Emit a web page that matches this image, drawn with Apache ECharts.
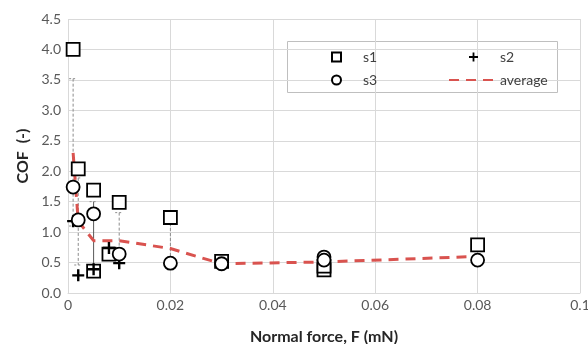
<!DOCTYPE html>
<html>
<head>
<meta charset="utf-8">
<script src="https://cdn.jsdelivr.net/npm/echarts@6/dist/echarts.min.js"></script>
<style>
  html, body { margin: 0; padding: 0; background: #fff; }
  #chart { width: 588px; height: 344px; }
</style>
</head>
<body>
<div id="chart"></div>
<script>
// 数据
const s1Points = [[0.001, 4.0], [0.002, 2.04], [0.005, 1.69], [0.005, 0.36], [0.008, 0.64],
  [0.01, 1.49], [0.02, 1.24], [0.03, 0.52], [0.05, 0.38], [0.05, 0.44], [0.08, 0.79]];
const s2Points = [[0.001, 1.18], [0.002, 0.29], [0.005, 0.39], [0.008, 0.74], [0.01, 0.49]];
const s3Points = [[0.001, 1.74], [0.002, 1.2], [0.005, 1.3], [0.01, 0.64], [0.02, 0.49],
  [0.03, 0.48], [0.05, 0.59], [0.05, 0.54], [0.08, 0.54]];
const avgX = [0.001, 0.002, 0.005, 0.01, 0.02, 0.03, 0.05, 0.08];
const avgY = [2.3, 1.18, 0.86, 0.86, 0.73, 0.48, 0.51, 0.6];
// 误差棒
const errX = [0.001, 0.002, 0.005, 0.01, 0.02];
const errLow = [1.1, 0.46, 0.38, 0.55, 0.5];
const errHigh = [3.52, 1.89, 1.5, 1.32, 1.15];

const FONT = "Lato";
const plusPath = "path://M4,0 h2 v4 h4 v2 h-4 v4 h-2 v-4 h-4 v-2 h4 z";

const myChart = echarts.init(document.getElementById("chart"), null, { renderer: "canvas" });

const legendBase = {
  orient: "horizontal",
  itemWidth: 9,
  itemHeight: 9,
  selectedMode: false,
  textStyle: { fontFamily: FONT, fontSize: 14, color: "#404040", padding: [0, 0, 0, 17] },
};

const option = {
  animation: false,
  backgroundColor: "#fff",
  grid: { left: 68, right: 8, top: 19, bottom: 51, outerBoundsMode: "none", containLabel: false },
  xAxis: {
    type: "value",
    min: 0,
    max: 0.1,
    interval: 0.02,
    name: "Normal force, F (mN)",
    nameLocation: "middle",
    nameGap: 36,
    nameTextStyle: { fontFamily: FONT, fontSize: 16, fontWeight: "bold", color: "#262626" },
    axisLine: { lineStyle: { color: "#d9d9d9" } },
    axisTick: { show: false },
    axisLabel: { fontFamily: FONT, fontSize: 14, color: "#595959", margin: 5 },
    splitLine: { show: true, lineStyle: { color: "#d9d9d9" } },
  },
  yAxis: {
    type: "value",
    min: 0,
    max: 4.5,
    interval: 0.5,
    name: "COF  (-)",
    nameLocation: "middle",
    nameGap: 33,
    nameTextStyle: { fontFamily: FONT, fontSize: 16, fontWeight: "bold", color: "#262626" },
    axisLine: { show: false },
    axisTick: { show: false },
    axisLabel: {
      fontFamily: FONT, fontSize: 14, color: "#595959", margin: 7,
      formatter: (v) => v.toFixed(1),
    },
    splitLine: { lineStyle: { color: "#d9d9d9" } },
  },
  legend: [
    Object.assign({}, legendBase, { data: ["s1"], left: 326, top: 45 }),
    Object.assign({}, legendBase, { data: ["s2"], left: 464, top: 45 }),
    Object.assign({}, legendBase, { data: ["s3"], left: 326, top: 68 }),
    Object.assign({}, legendBase, {
      data: ["average"], left: 443, top: 68, itemWidth: 49, itemHeight: 9,
      itemStyle: { opacity: 0 },
      textStyle: { fontFamily: FONT, fontSize: 14, color: "#404040", padding: [0, 0, 0, -3] },
    }),
  ],
  graphic: [
    {
      type: "rect",
      left: 287,
      top: 41,
      shape: { width: 270, height: 51 },
      style: { fill: "#fff", stroke: "#bfbfbf", lineWidth: 1 },
      z: -1,
    },
  ],
  series: [
    {
      name: "errbar",
      type: "custom",
      z: 1,
      silent: true,
      data: errX.map((x, i) => [x, errLow[i], errHigh[i]]),
      renderItem: (params, api) => {
        const x = api.value(0);
        const top = api.coord([x, api.value(2)]);
        const bot = api.coord([x, api.value(1)]);
        const solid = x === 0.005;
        const st = { stroke: solid ? "#595959" : "#8c8c8c", lineWidth: 1, lineDash: solid ? null : [3, 2] };
        const capSt = { stroke: "#8c8c8c", lineWidth: 1, lineDash: [2, 2] };
        return {
          type: "group",
          children: [
            { type: "line", shape: { x1: top[0], y1: top[1], x2: bot[0], y2: bot[1] }, style: st },
            { type: "line", shape: { x1: top[0] - 4, y1: top[1], x2: top[0] + 4, y2: top[1] }, style: capSt },
            { type: "line", shape: { x1: bot[0] - 4, y1: bot[1], x2: bot[0] + 4, y2: bot[1] }, style: capSt },
          ],
        };
      },
    },
    {
      name: "average",
      type: "line",
      z: 2,
      symbol: "none",
      data: avgX.map((x, i) => [x, avgY[i]]),
      lineStyle: { color: "#d9534f", width: 3, type: [10, 7] },
      itemStyle: { color: "#d9534f" },
    },
    {
      name: "s1",
      type: "scatter",
      z: 3,
      symbol: "rect",
      symbolSize: 13,
      data: s1Points,
      itemStyle: { color: "#fff", borderColor: "#000", borderWidth: 1.8, opacity: 1 },
    },
    {
      name: "s2",
      type: "scatter",
      z: 4,
      symbol: plusPath,
      symbolSize: 12,
      data: s2Points,
      itemStyle: { color: "#000", opacity: 1 },
    },
    {
      name: "s3",
      type: "scatter",
      z: 5,
      symbol: "circle",
      symbolSize: 13,
      data: s3Points,
      itemStyle: { color: "#fff", borderColor: "#000", borderWidth: 1.8, opacity: 1 },
    },
  ],
};

myChart.setOption(option);
window.addEventListener("resize", () => myChart.resize());
</script>
</body>
</html>
